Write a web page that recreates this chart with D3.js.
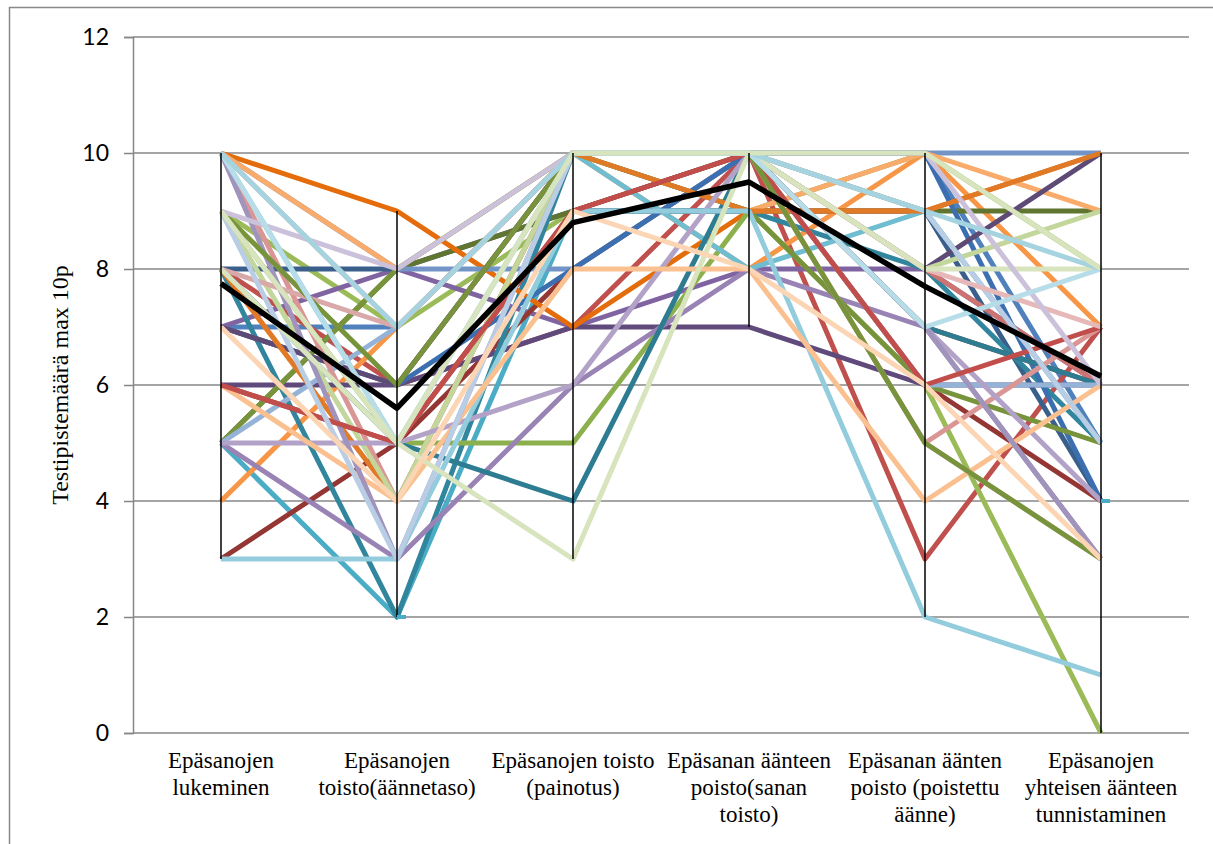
<!DOCTYPE html>
<html>
<head>
<meta charset="utf-8">
<script src="https://cdn.jsdelivr.net/npm/d3@7"></script>
<style>
  body { margin: 0; background: #fff; }
  .serif { font-family: "Liberation Serif", "Times New Roman", Tinos, "DejaVu Serif", serif; }
  .tikit text { font-family: Lato, "Open Sans", sans-serif; }
</style>
</head>
<body>
<div id="kaavio"></div>
<script>

// testien nimet (rivitetty kuten alkuperäisessä)
var kategoriat = [
  ["Epäsanojen", "lukeminen"],
  ["Epäsanojen", "toisto(äännetaso)"],
  ["Epäsanojen toisto", "(painotus)"],
  ["Epäsanan äänteen", "poisto(sanan", "toisto)"],
  ["Epäsanan äänten", "poisto (poistettu", "äänne)"],
  ["Epäsanojen", "yhteisen äänteen", "tunnistaminen"]
];

// oppilaiden pisteet, yksi rivi per oppilas
var oppilaat = [
  [7, 7, 10, 10, 10, 5],
  [8, 6, 7, 10, 3, 7],
  [9, 7, 9, 9, 6, 0],
  [7, 8, 7, 8, 8, 6],
  [5, 2, 9, 9, 9, 5],
  [4, 7, 10, 8, 10, 7],
  [8, 8, 9, 9, 9, 4],
  [3, 5, 8, 10, 6, 4],
  [5, 8, 9, 10, 9, 9],
  [6, 6, 7, 7, 6, 6],
  [8, 2, 10, 9, 8, 5],
  [10, 9, 7, 9, 9, 10],
  [10, 8, 8, 10, 10, 10],
  [7, 6, 10, 10, 8, 6],
  [9, 5, 5, 9, 10, 8],
  [5, 3, 6, 8, 7, 3],
  [10, 5, 10, 8, 9, 5],
  [10, 8, 10, 9, 10, 9],
  [7, 6, 8, 10, 10, 4],
  [6, 5, 9, 10, 7, 6],
  [5, 8, 10, 9, 6, 5],
  [7, 6, 10, 10, 8, 10],
  [8, 5, 4, 10, 7, 6],
  [8, 4, 10, 9, 9, 10],
  [5, 7, 10, 10, 6, 6],
  [10, 4, 10, 10, 5, 7],
  [9, 4, 10, 10, 8, 9],
  [5, 5, 6, 10, 7, 4],
  [3, 3, 9, 9, 2, 1],
  [6, 4, 8, 8, 4, 6],
  [10, 3, 10, 10, 7, 3],
  [8, 7, 10, 10, 5, 3],
  [6, 5, 9, 10, 6, 7],
  [9, 6, 10, 10, 5, 3],
  [9, 3, 10, 10, 9, 5],
  [10, 7, 10, 10, 8, 7],
  [8, 5, 3, 10, 8, 8],
  [9, 8, 10, 10, 10, 6],
  [10, 5, 10, 10, 7, 8],
  [7, 4, 9, 8, 6, 3],
  [10, 7, 10, 10, 9, 8],
  [9, 5, 10, 10, 10, 8]
];

var keskiarvo = [7.75, 5.6, 8.8, 9.5, 7.7, 6.15];

// pienet viivamerkit (testin indeksi, arvo)
var merkit = [[1, 2], [5, 4]];

var yTikit = [0, 2, 4, 6, 8, 10, 12];

// excelin oletusvärit
var varit = [
  "#4F81BD", "#C0504D", "#9BBB59", "#8064A2", "#4BACC6", "#F79646",
  "#3A5F8B", "#943634", "#5F7530", "#604A7B", "#31859C", "#E46C0A",
  "#7394C6", "#CD7371", "#8DB04E", "#9983B5", "#6FBDD1", "#F9AB6B",
  "#3C6FB0", "#8E3B38", "#77933C", "#5D4B76", "#2E7C92", "#E07A27",
  "#95B3D7", "#D99694", "#C3D69B", "#B3A2C7", "#93CDDD", "#FAC090",
  "#A094BC", "#D9A9A9", "#C24E4B", "#77933C", "#B9CDE5", "#E6B9B8",
  "#D7E4BD", "#CCC1DA", "#B7DEE8", "#FCD5B5", "#A5D3DF", "#D7E4BD"
];

var leveys = 1213, korkeus = 844;

var svg = d3.select("#kaavio")
  .append("svg")
    .attr("width", leveys)
    .attr("height", korkeus);

// kaavion kehys
svg.append("rect")
  .attr("x", 9.5).attr("y", 7.5)
  .attr("width", 1300).attr("height", 900)
  .attr("fill", "none")
  .attr("stroke", "#898989")
  .attr("stroke-width", 1.5);

var x = d3.scalePoint()
  .domain(d3.range(kategoriat.length))
  .range([133, 1189])
  .padding(0.5);

var y = d3.scaleLinear()
  .domain([0, 12])
  .range([733, 37]);

// vaakaviivat
svg.append("g")
  .selectAll("line")
  .data(yTikit)
  .join("line")
    .attr("x1", 133).attr("x2", 1189)
    .attr("y1", function(d) { return y(d); })
    .attr("y2", function(d) { return y(d); })
    .attr("stroke", "#878787")
    .attr("stroke-width", 1.5);

// y-akseli
var yAkseli = svg.append("g")
  .attr("class", "tikit")
  .attr("transform", "translate(133,0)")
  .call(d3.axisLeft(y).tickValues(yTikit).tickSize(9).tickPadding(15));
yAkseli.attr("font-family", null);
yAkseli.select(".domain").attr("stroke", "#878787").attr("stroke-width", 1.5);
yAkseli.selectAll(".tick line").attr("stroke", "#878787").attr("stroke-width", 1.5);
yAkseli.selectAll(".tick text")
  .style("font-size", "23px")
  .attr("fill", "#000");

// oppilaiden viivat
var viiva = d3.line()
  .x(function(d, i) { return x(i); })
  .y(function(d) { return y(d); });

svg.append("g")
  .selectAll("path")
  .data(oppilaat)
  .join("path")
    .attr("d", viiva)
    .attr("fill", "none")
    .attr("stroke", function(d, i) { return varit[i % varit.length]; })
    .attr("stroke-width", 5)
    .attr("stroke-linejoin", "round");

// max-min viivat jokaisen testin kohdalla
var kaikki = oppilaat.concat([keskiarvo]);
svg.append("g")
  .selectAll("line")
  .data(kategoriat)
  .join("line")
    .attr("x1", function(d, i) { return x(i); })
    .attr("x2", function(d, i) { return x(i); })
    .attr("y1", function(d, i) { return y(d3.max(kaikki, function(r) { return r[i]; })); })
    .attr("y2", function(d, i) { return y(d3.min(kaikki, function(r) { return r[i]; })); })
    .attr("stroke", "#000")
    .attr("stroke-width", 1.5);

// syaanit viivamerkit
svg.append("g")
  .selectAll("rect")
  .data(merkit)
  .join("rect")
    .attr("x", function(d) { return x(d[0]); })
    .attr("y", function(d) { return y(d[1]) - 2; })
    .attr("width", 9)
    .attr("height", 4)
    .attr("fill", "#4BACC6");

// keskiarvo
svg.append("path")
  .datum(keskiarvo)
  .attr("d", viiva)
  .attr("fill", "none")
  .attr("stroke", "#000")
  .attr("stroke-width", 5.5)
  .attr("stroke-linejoin", "round");

// testien nimet
var nimet = svg.append("g")
  .selectAll("text")
  .data(kategoriat)
  .join("text")
    .attr("class", "serif")
    .attr("x", function(d, i) { return x(i); })
    .attr("y", 768)
    .attr("text-anchor", "middle")
    .style("font-size", "23px")
    .attr("fill", "#000");

nimet.each(function(d, i) {
  var t = d3.select(this);
  d.forEach(function(rivi, j) {
    t.append("tspan")
      .attr("x", x(i))
      .attr("dy", j == 0 ? 0 : 27)
      .text(rivi);
  });
});

// y-akselin otsikko
svg.append("text")
  .attr("class", "serif")
  .attr("transform", "translate(68,385) rotate(-90)")
  .attr("text-anchor", "middle")
  .style("font-size", "24px")
  .attr("fill", "#000")
  .text("Testipistemäärä max 10p");

</script>
</body>
</html>
